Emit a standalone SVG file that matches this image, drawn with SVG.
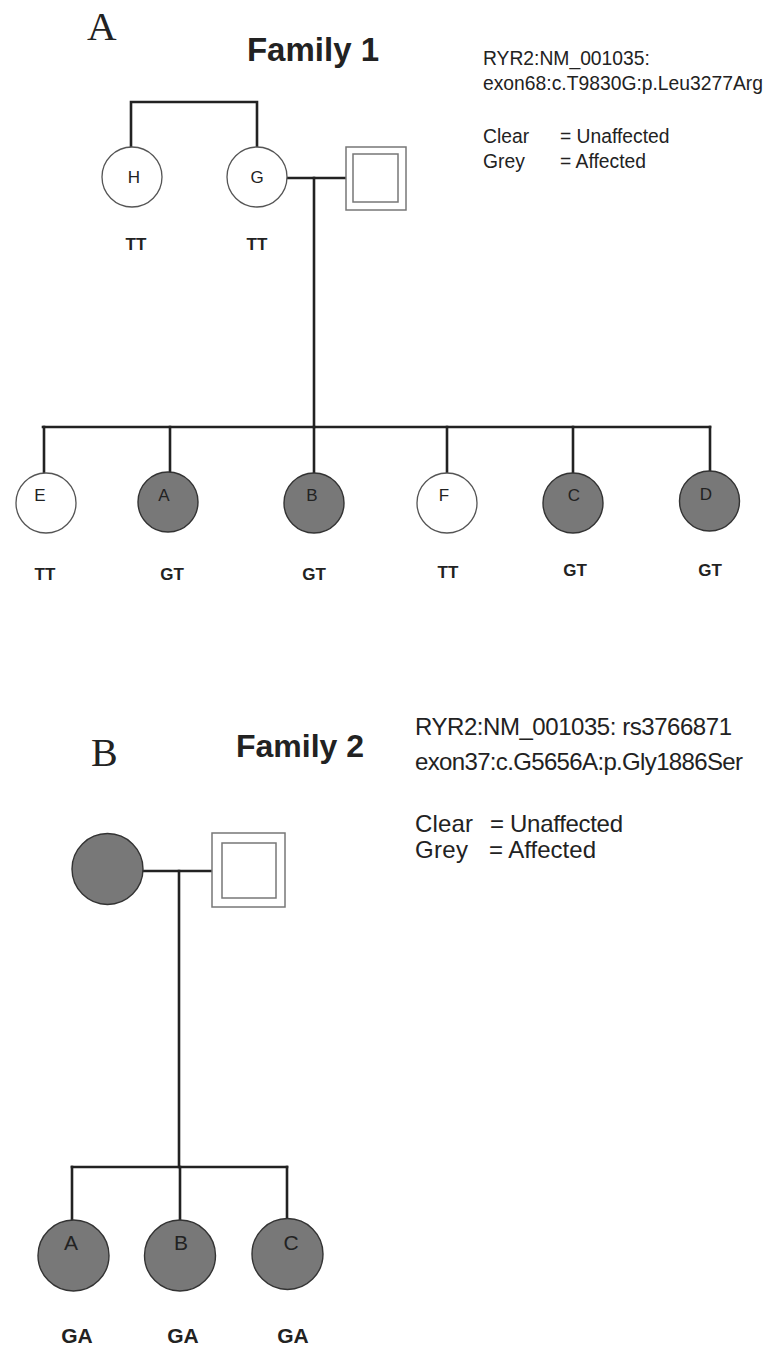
<svg xmlns="http://www.w3.org/2000/svg" width="766" height="1347" viewBox="0 0 766 1347">
  <style>
    .line { stroke: #222; stroke-width: 2.6; fill: none; stroke-linecap: square; }
    .clear { fill: #fff; stroke: #555; stroke-width: 1.3; }
    .grey { fill: #787878; stroke: #333; stroke-width: 1.4; }
    .sq { fill: #fff; stroke: #777; stroke-width: 1.5; }
    .panel { font-family: "Liberation Serif", serif; fill: #222; }
    .title { font-family: "Liberation Sans", sans-serif; font-weight: bold; fill: #222; text-anchor: middle; }
    .legend { font-family: "Liberation Sans", sans-serif; fill: #222; }
    .id { font-family: "Liberation Sans", sans-serif; fill: #222; text-anchor: middle; }
    .geno { font-family: "Liberation Sans", sans-serif; font-weight: bold; fill: #222; text-anchor: middle; }
  </style>

  <!-- Panel A: Family 1 -->
  <text class="panel" x="87" y="40" font-size="41">A</text>
  <text class="title" x="313" y="61" font-size="33">Family 1</text>
  <g id="legend1" class="legend" font-size="19.3">
    <text x="483" y="65">RYR2:NM_001035:</text>
    <text x="483" y="90" textLength="280">exon68:c.T9830G:p.Leu3277Arg</text>
    <text x="483" y="143">Clear</text>
    <text x="560" y="143">= Unaffected</text>
    <text x="483" y="168">Grey</text>
    <text x="560" y="168">= Affected</text>
  </g>

  <g id="connectors1">
    <polyline class="line" points="131,147 131,102 257,102 257,147"/>
    <line class="line" x1="287" y1="178" x2="346" y2="178"/>
    <line class="line" x1="314" y1="178" x2="314" y2="427"/>
    <line class="line" x1="43" y1="427" x2="710" y2="427"/>
    <line class="line" x1="44" y1="427" x2="44" y2="472"/>
    <line class="line" x1="170" y1="427" x2="170" y2="472"/>
    <line class="line" x1="314" y1="427" x2="314" y2="473"/>
    <line class="line" x1="447" y1="427" x2="447" y2="473"/>
    <line class="line" x1="573" y1="427" x2="573" y2="473"/>
    <line class="line" x1="710" y1="427" x2="710" y2="471"/>
  </g>

  <g id="f1-H">
    <circle class="clear" cx="132" cy="177" r="30"/>
    <text class="id" x="134" y="183" font-size="17">H</text>
    <text class="geno" x="136" y="250" font-size="17">TT</text>
  </g>
  <g id="f1-G">
    <circle class="clear" cx="257" cy="177" r="30"/>
    <text class="id" x="257" y="183" font-size="17">G</text>
    <text class="geno" x="257" y="250" font-size="17">TT</text>
  </g>
  <g id="f1-spouse">
    <rect class="sq" x="346" y="147" width="60" height="63"/>
    <rect class="sq" x="353" y="154" width="45" height="48"/>
  </g>
  <g id="f1-E">
    <circle class="clear" cx="46" cy="503" r="30"/>
    <text class="id" x="40" y="501" font-size="17">E</text>
    <text class="geno" x="45" y="580" font-size="17">TT</text>
  </g>
  <g id="f1-A">
    <circle class="grey" cx="168" cy="502" r="30"/>
    <text class="id" x="164" y="501" font-size="17">A</text>
    <text class="geno" x="172" y="580" font-size="17">GT</text>
  </g>
  <g id="f1-B">
    <circle class="grey" cx="314" cy="503" r="30"/>
    <text class="id" x="312" y="501" font-size="17">B</text>
    <text class="geno" x="314" y="580" font-size="17">GT</text>
  </g>
  <g id="f1-F">
    <circle class="clear" cx="447" cy="503" r="30"/>
    <text class="id" x="444" y="501" font-size="17">F</text>
    <text class="geno" x="448" y="578" font-size="17">TT</text>
  </g>
  <g id="f1-C">
    <circle class="grey" cx="573" cy="503" r="30"/>
    <text class="id" x="574" y="501" font-size="17">C</text>
    <text class="geno" x="575" y="576" font-size="17">GT</text>
  </g>
  <g id="f1-D">
    <circle class="grey" cx="709.5" cy="501" r="30"/>
    <text class="id" x="706" y="500" font-size="17">D</text>
    <text class="geno" x="710" y="576" font-size="17">GT</text>
  </g>

  <!-- Panel B: Family 2 -->
  <text class="panel" x="91" y="766" font-size="40">B</text>
  <text class="title" x="300" y="757" font-size="32">Family 2</text>
  <g id="legend2" class="legend" font-size="24">
    <text x="415" y="735" textLength="317">RYR2:NM_001035: rs3766871</text>
    <text x="415" y="770" textLength="328">exon37:c.G5656A:p.Gly1886Ser</text>
    <text x="415" y="832" textLength="58">Clear</text>
    <text x="490" y="832" textLength="133">= Unaffected</text>
    <text x="415" y="858" textLength="53">Grey</text>
    <text x="489" y="858" textLength="107">= Affected</text>
  </g>

  <g id="connectors2">
    <line class="line" x1="143" y1="871" x2="212" y2="871"/>
    <line class="line" x1="179" y1="871" x2="179" y2="1167"/>
    <line class="line" x1="72" y1="1167" x2="287" y2="1167"/>
    <line class="line" x1="72" y1="1167" x2="72" y2="1220"/>
    <line class="line" x1="180" y1="1167" x2="180" y2="1220"/>
    <line class="line" x1="287" y1="1167" x2="287" y2="1219"/>
  </g>

  <g id="f2-mother">
    <circle class="grey" cx="107.5" cy="869" r="35.5"/>
  </g>
  <g id="f2-father">
    <rect class="sq" x="212" y="833" width="73" height="74"/>
    <rect class="sq" x="222" y="843" width="54" height="55"/>
  </g>
  <g id="f2-A">
    <circle class="grey" cx="73.5" cy="1255.5" r="35.5"/>
    <text class="id" x="71" y="1250" font-size="21">A</text>
    <text class="geno" x="77" y="1343" font-size="21">GA</text>
  </g>
  <g id="f2-B">
    <circle class="grey" cx="180" cy="1255.5" r="35.5"/>
    <text class="id" x="181" y="1250" font-size="21">B</text>
    <text class="geno" x="183" y="1343" font-size="21">GA</text>
  </g>
  <g id="f2-C">
    <circle class="grey" cx="287.5" cy="1254" r="35.5"/>
    <text class="id" x="291" y="1250" font-size="21">C</text>
    <text class="geno" x="293" y="1343" font-size="21">GA</text>
  </g>
</svg>
